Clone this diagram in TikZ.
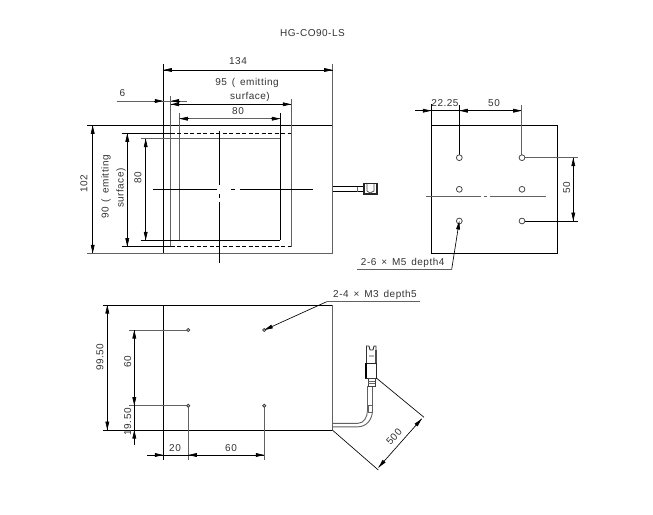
\documentclass[tikz,border=0pt]{standalone}
\usepackage{fontspec}
\setmainfont[LetterSpace=5,WordSpace=1.5]{Liberation Sans}
\usetikzlibrary{arrows.meta}
\definecolor{linegray}{gray}{0.38}
\definecolor{txt}{gray}{0.2}
\tikzset{
  obj/.style={line width=0.85pt,draw=black},
  ext/.style={line width=0.9pt,draw=linegray},
  hairline/.style={line width=0.65pt,draw=black},
  dashedobj/.style={line width=0.85pt,draw=black,dash pattern=on 4pt off 2.5pt},
  tip/.style={line width=0.65pt,draw=black,-{Stealth[length=8.5pt,width=3.8pt,inset=0pt]}},
  lbl/.style={font=\fontsize{10}{12}\selectfont,text=txt,inner sep=0pt},
  vlbl/.style={lbl,rotate=90},
  hole/.style={line width=0.75pt,draw=black!75,fill=white}
}
\begin{document}
\begin{tikzpicture}[x=1pt,y=-1pt]
\useasboundingbox[fill=white] (0,0) rectangle (653,514);
\node[lbl] (title) at (312.5,33.5) {HG-CO90-LS};

% ===== front view =====
\draw[obj] (87,125.3) -- (332.7,125.3);
\draw[ext] (87,253.3) -- (332.7,253.3);
\draw[obj] (163.3,64) -- (163.3,253.3);
\draw[ext] (332.7,64) -- (332.7,253.3);
\draw[ext] (170.7,96) -- (170.7,246.7);
\draw[ext] (291.3,99) -- (291.3,246.7);
\draw[ext] (179.3,113) -- (179.3,240.3);
\draw[obj] (280.3,113) -- (280.3,240.3);
\draw[obj] (121.7,133.3) -- (170.7,133.3);
\draw[dashedobj] (170.7,133.3) -- (291.3,133.3);
\draw[obj] (121.7,246.7) -- (170.7,246.7);
\draw[dashedobj] (170.7,246.7) -- (291.3,246.7);
\draw[line width=1.1pt,draw=linegray] (140.7,138.7) -- (280.3,138.7);
\draw[obj] (140.7,240.3) -- (280.3,240.3);
% centre lines
\draw[hairline] (152.7,189.3) -- (216.7,189.3) (231,189.3) -- (235,189.3) (240,189.3) -- (312.7,189.3);
\draw[hairline] (219.7,130.7) -- (219.7,185) (219.7,194) -- (219.7,198) (219.7,201.7) -- (219.7,263);
% dimensions
\draw[hairline] (163.3,70) -- (332.7,70);
\draw[tip] (172,70) -- (163.3,70);
\draw[tip] (324,70) -- (332.7,70);
\node[lbl] (d134) at (238,61.5) {134};
\draw[ext] (116.7,101) -- (186.7,101);
\draw[tip] (154,101) -- (163.3,101);
\draw[tip] (180,101) -- (170.7,101);
\node[lbl] (d6) at (122.5,93) {6};
\draw[hairline] (170.7,104.3) -- (291.3,104.3);
\draw[tip] (179,104.3) -- (170.7,104.3);
\draw[tip] (282,104.3) -- (291.3,104.3);
\node[lbl] (d95a) at (247,83) {95 ( emitting};
\node[lbl] (d95b) at (250,97) {surface)};
\draw[ext] (179.3,118.7) -- (280.3,118.7);
\draw[tip] (189,118.7) -- (179.3,118.7);
\draw[tip] (271,118.7) -- (280.3,118.7);
\node[lbl] (d80a) at (238,111.5) {80};
\draw[hairline] (92.7,125.3) -- (92.7,253.3);
\draw[tip] (92.7,134) -- (92.7,125.3);
\draw[tip] (92.7,245) -- (92.7,253.3);
\node[vlbl] (d102) at (84,184) {102};
\draw[hairline] (127.3,133.3) -- (127.3,246.7);
\draw[tip] (127.3,142) -- (127.3,133.3);
\draw[tip] (127.3,238) -- (127.3,246.7);
\node[vlbl] (d90a) at (106,187) {90 ( emitting};
\node[vlbl] (d90b) at (121,188) {surface)};
\draw[hairline] (145.7,138.7) -- (145.7,240.3);
\draw[tip] (145.7,148) -- (145.7,138.7);
\draw[tip] (145.7,231) -- (145.7,240.3);
\node[vlbl] (d80b) at (138,178) {80};
% cable end
\draw[obj] (332.7,186.7) -- (364,186.7) (332.7,191.7) -- (364,191.7);
\draw[ext] (357.7,186.7) -- (357.7,191.7);
\draw[line width=1.1pt,draw=black!85] (364,183.5) rectangle (377,194);
\draw[line width=0.8pt,draw=black!70] (367,184) -- (367,191) -- (370,193) -- (374,191) -- (374,184);

% ===== rear view =====
\draw[obj] (431.3,125) rectangle (557.3,253.3);
\draw[obj] (431.3,104) -- (431.3,125);
\draw[hairline] (415,110.7) -- (521.7,110.7);
\draw[tip] (422,110.7) -- (431.3,110.7);
\draw[tip] (469,110.7) -- (459.3,110.7);
\draw[tip] (512.5,110.7) -- (521.7,110.7);
\draw[obj] (459.3,105) -- (459.3,154.7);
\draw[ext] (521.7,105) -- (521.7,154.7);
\draw[ext] (525,157.7) -- (578.3,157.7);
\draw[obj] (525,221) -- (578.3,221);
\draw[hairline] (573.3,157.7) -- (573.3,221);
\draw[tip] (573.3,167) -- (573.3,157.7);
\draw[tip] (573.3,212) -- (573.3,221);
\node[vlbl] (d50v) at (566.7,187.7) {50};
\node[lbl] (d2225) at (445,103) {22.25};
\node[lbl] (d50h) at (494,103) {50};
\foreach \hx/\hy in {459.3/157.7,522/157.7,459.3/189.3,522/189.3,459.3/221,522/221}
  \draw[hole] (\hx,\hy) circle (2.9pt);
\draw[ext] (425.7,196.7) -- (480.7,196.7) (483.5,196.7) -- (487,196.7) (490,196.7) -- (545.7,196.7);
\coordinate (lead6) at (451.7,269.3);
\draw[tip] (lead6) -- (459.3,221);
\draw[ext] (lead6) -- (356.7,269.3);
\node[lbl] (m5) at (402.7,262.5) {2-6 × M5 depth4};

% ===== bottom view =====
\draw[obj] (102.7,305) -- (332.3,305);
\draw[obj] (102.7,430) -- (332.3,430);
\draw[ext] (332.3,305) -- (332.3,430);
\draw[obj] (163.3,305) -- (163.3,460);
\draw[hairline] (107.3,305) -- (107.3,430);
\draw[tip] (107.3,314) -- (107.3,305);
\draw[tip] (107.3,421) -- (107.3,430);
\node[vlbl] (d9950) at (100,357) {99.50};
\draw[ext] (129.3,330) -- (188.3,330);
\draw[ext] (129.3,405.7) -- (188.3,405.7);
\draw[hairline] (134.3,330) -- (134.3,445);
\draw[tip] (134.3,339) -- (134.3,330);
\draw[tip] (134.3,396.5) -- (134.3,405.7);
\draw[tip] (134.3,439) -- (134.3,430);
\node[vlbl] (d60v) at (127.7,361.7) {60};
\node[vlbl] (d1950) at (127.7,421.7) {19.50};
\draw[ext] (188.3,405.7) -- (188.3,460);
\draw[ext] (264.3,405.7) -- (264.3,460);
\draw[hairline] (147.3,455) -- (264.3,455);
\draw[tip] (154,455) -- (163.3,455);
\draw[tip] (198,455) -- (188.3,455);
\draw[tip] (255,455) -- (264.3,455);
\node[lbl] (d20) at (175,447.7) {20};
\node[lbl] (d60h) at (231,447.7) {60};
\foreach \hx/\hy in {188.3/330,264.3/330,188.3/405.7,264.3/405.7}
  \draw[hole,fill=black!25] (\hx,\hy) circle (1.6pt);
\coordinate (lead4) at (326.7,301.7);
\draw[tip] (lead4) -- (264.3,330);
\draw[ext] (lead4) -- (420,301.7);
\node[lbl] (m3) at (375,294.5) {2-4 × M3 depth5};
% cable and connector
\draw[ext] (332.3,423.3) -- (358,423.3) .. controls (364,423.3) and (367.5,417) .. (367.5,410) -- (367.5,386)
  (332.3,426.8) -- (358,426.8) .. controls (366,426.8) and (372.5,420) .. (372.5,410) -- (372.5,386);
\draw[ext] (368,405) rectangle (372.5,412);
\draw[line width=1pt,draw=black!85] (365.5,363) rectangle (376.3,378);
\draw[line width=1.6pt,draw=black] (366,363) -- (366,378);
\draw[line width=0.8pt,draw=black!75] (368,378) rectangle (375,386);
\draw[line width=0.8pt,draw=black!60] (368,381) -- (375,381) (368,383.5) -- (375,383.5);
\draw[line width=0.9pt,draw=black!80] (366.5,363) -- (366.5,346) -- (369,346) -- (370,350) -- (373,350) -- (374,346) -- (376,346) -- (376,363)
  (369,356) -- (374,356);
\draw[line width=1.2pt,draw=black!70] (376,350) -- (376,363);
% 500 dimension
\coordinate (e1) at (332.3,430);
\coordinate (e2) at (376.7,378.3);
\coordinate (e3) at (378.3,470);
\coordinate (e4) at (424,417.3);
\draw[hairline] (e1) -- (e3);
\draw[hairline] (e2) -- (e4);
\draw[hairline] (378.5,467.5) -- (421.7,418.8);
\draw[tip] (384.5,460.7) -- (378.5,467.5);
\draw[tip] (415.7,425.5) -- (421.7,418.8);
\node[lbl,rotate=48] (d500) at (394,437) {500};
\end{tikzpicture}
\end{document}
